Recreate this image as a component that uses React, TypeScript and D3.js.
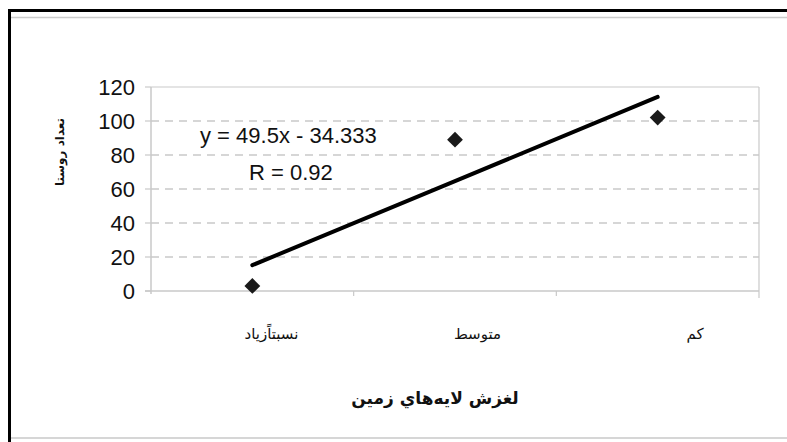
import React from "react";
import * as d3 from "d3";

const categories = ["نسبتاًزياد", "متوسط", "كم"];
const values = [3, 89, 102];
const yTicks = [0, 20, 40, 60, 80, 100, 120];
const trendSlope = 49.5;
const trendIntercept = -34.333;
const equationLabel = "y = 49.5x - 34.333";
const rLabel = "R = 0.92";
const xTitle = "لغزش لايه‌هاي زمين";
const yTitle = "تعداد روستا";

const W = 787;
const H = 442;
const plot = { left: 151, right: 759, top: 87, bottom: 291 };
const grid = "#c9c9c9";

export default function App() {
  const x = d3.scaleBand<string>().domain(categories).range([plot.left, plot.right]).padding(0);
  const cx = (c: string) => (x(c) as number) + x.bandwidth() / 2;
  const y = d3.scaleLinear().domain([0, 120]).range([plot.bottom, plot.top]);
  const diamond = d3.symbol().type(d3.symbolSquare).size(125)() as string;
  const trend = categories.map((c, i) => [cx(c), y(trendSlope * (i + 1) + trendIntercept)] as [number, number]);
  const line = d3.line()(trend) as string;
  const sans = "'Liberation Sans', Arial, sans-serif";
  return (
    <svg width={W} height={H} style={{ position: "absolute", left: 0, top: 0, background: "#fff" }}>
      <rect x={0} y={0} width={W} height={H} fill="#fff" />
      {/* outer frame */}
      <rect x={8} y={9} width={W - 8} height={3} fill="#000" />
      <rect x={8} y={9} width={3} height={H - 9} fill="#000" />
      <line x1={11} x2={W} y1={17.5} y2={17.5} stroke="#cccccc" strokeWidth={1.5} />
      <line x1={11} x2={W} y1={438} y2={438} stroke="#d6d6d6" strokeWidth={2} />

      {/* gridlines */}
      {yTicks.filter((t) => t > 0 && t < 120).map((t) => (
        <line key={t} x1={plot.left} x2={plot.right} y1={y(t)} y2={y(t)} stroke={grid} strokeWidth={1.5} strokeDasharray="8,6" />
      ))}
      {/* plot border */}
      <line x1={plot.left} x2={plot.right} y1={plot.top} y2={plot.top} stroke={grid} strokeWidth={1.2} />
      <line x1={plot.right} x2={plot.right} y1={plot.top} y2={plot.bottom + 7} stroke={grid} strokeWidth={1.2} />
      <line x1={plot.left} x2={plot.left} y1={plot.top} y2={plot.bottom + 3} stroke={grid} strokeWidth={1.5} />
      <line x1={plot.left - 6} x2={plot.right} y1={plot.bottom} y2={plot.bottom} stroke={grid} strokeWidth={1.5} />
      {yTicks.map((t) => (
        <g key={t}>
          <line x1={plot.left - 6} x2={plot.left} y1={y(t)} y2={y(t)} stroke={grid} strokeWidth={1.2} />
          <text x={plot.left - 16} y={y(t)} dy="0.36em" textAnchor="end" fontFamily={sans} fontSize={22} fill="#111">
            {t}
          </text>
        </g>
      ))}
      {categories.slice(1).map((c) => (
        <line key={c} x1={x(c) as number} x2={x(c) as number} y1={plot.bottom} y2={plot.bottom + 5} stroke={grid} strokeWidth={1.2} />
      ))}

      {/* category labels */}
      {categories.map((c) => (
        <text key={c} x={cx(c) + 46} y={334} dy="0.35em" textAnchor="end" fontFamily="'DejaVu Sans', serif" fontSize={15} fill="#111">
          {c}
        </text>
      ))}

      {/* trendline */}
      <path d={line} stroke="#000" strokeWidth={4} fill="none" strokeLinecap="round" />

      {/* points */}
      {values.map((v, i) => (
        <path key={i} d={diamond} transform={`translate(${cx(categories[i])},${y(v)}) rotate(45)`} fill="#1a1a1a" />
      ))}

      {/* equation labels */}
      <text x={200} y={143} fontFamily={sans} fontSize={22} fill="#111">{equationLabel}</text>
      <text x={249} y={180} fontFamily={sans} fontSize={22} fill="#111">{rLabel}</text>

      {/* axis titles */}
      <text x={435} y={398} dy="0.35em" textAnchor="middle" fontFamily="'DejaVu Sans', sans-serif" fontWeight="bold" fontSize={17} fill="#111">
        {xTitle}
      </text>
      <text transform={`translate(60,152) rotate(-90)`} dy="0.35em" textAnchor="middle" fontFamily="'DejaVu Sans', sans-serif" fontWeight="bold" fontSize={12} fill="#111">
        {yTitle}
      </text>
    </svg>
  );
}
